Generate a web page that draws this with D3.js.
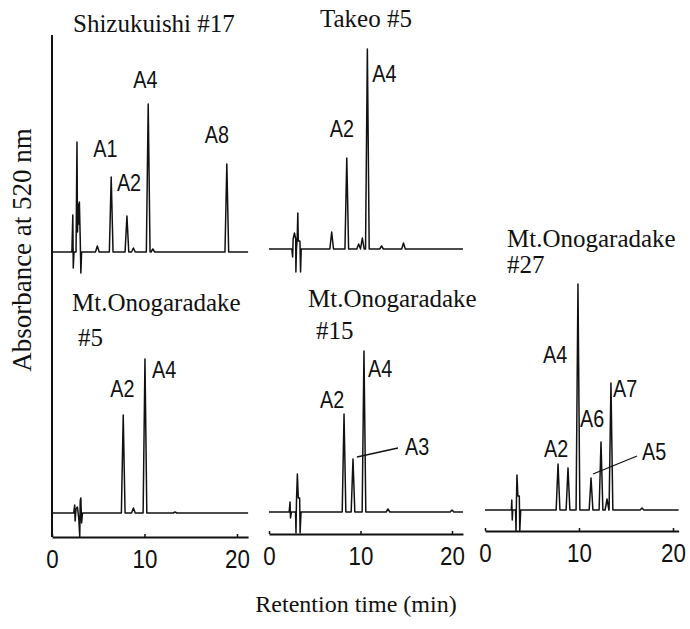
<!DOCTYPE html>
<html><head><meta charset="utf-8">
<script src="https://cdn.jsdelivr.net/npm/d3@7"></script>
<style>
body{margin:0;background:#fff;}
svg{display:block;}
.serif{font-family:'Liberation Serif','Times New Roman',serif;fill:#111;}
.sans{font-family:'Liberation Sans','Arial',sans-serif;fill:#111;}
</style></head><body>
<svg id="chart" width="690" height="629"></svg>
<script>
// ================= DATA =================
const xTitle = "Retention time (min)";
const yTitle = "Absorbance at 520 nm";
const tickValues = [0, 10, 20];

// Shizukuishi #17
const s17Title = ["Shizukuishi #17"];
const s17Times   = [4.9, 6.4, 8.1, 8.8, 10.4, 10.9, 18.9];
const s17Heights = [6, 75, 36, 4, 148, 3, 88];
const s17Labels  = ["", "A1", "A2", "", "A4", "", "A8"];
const s17Inject  = [[2.15,0],[2.25,37],[2.3,-16],[2.38,0],[2.6,0],[2.7,110],[2.76,20],[2.82,48],[2.9,28],[2.96,50],[3.05,14],[3.12,-21],[3.2,0]];

// Takeo #5
const takeoTitle = ["Takeo #5"];
const takeoTimes   = [6.85, 8.5, 9.8, 10.2, 10.75, 12.3, 14.7];
const takeoHeights = [17, 91, 5, 11, 200, 3, 6];
const takeoLabels  = ["", "A2", "", "", "A4", "", ""];
const takeoInject  = [[2.5,0],[2.58,-8],[2.64,10],[2.78,16],[2.92,10],[2.94,-23],[3.0,0],[3.08,10],[3.15,36],[3.2,8],[3.38,8],[3.45,-23],[3.52,0]];

// Mt.Onogaradake #5
const mo5Title = ["Mt.Onogaradake", "#5"];
const mo5Times   = [7.7, 8.8, 10.05, 13.3];
const mo5Heights = [98, 5, 154, 1];
const mo5Labels  = ["A2", "", "A4", ""];
const mo5Inject  = [[2.35,0],[2.45,8],[2.5,-8],[2.6,4],[2.75,6],[2.9,-6],[3.0,-24],[3.05,12],[3.12,15],[3.2,-10],[3.3,0]];

// Mt.Onogaradake #15
const mo15Title = ["Mt.Onogaradake", "#15"];
const mo15Times   = [8.2, 9.18, 10.38, 13.0, 20.0];
const mo15Heights = [98, 53, 161, 3, 2];
const mo15Labels  = ["A2", "A3", "A4", "", ""];
const mo15Inject  = [[2.2,0],[2.3,10],[2.35,-6],[2.45,0],[2.9,0],[2.95,-21],[3.0,10],[3.1,38],[3.2,14],[3.35,14],[3.4,-21],[3.5,0]];

// Mt.Onogaradake #27
const mo27Title = ["Mt.Onogaradake", "#27"];
const mo27Times   = [7.77, 8.83, 9.89, 11.28, 12.34, 12.98, 13.4, 16.7];
const mo27Heights = [46, 42, 226, 32, 68, 11, 127, 2];
const mo27Labels  = ["A2", "", "A4", "A5", "A6", "", "A7", ""];
const mo27Inject  = [[2.8,0],[2.85,10],[2.9,-10],[2.95,0],[3.25,0],[3.3,-21],[3.35,12],[3.4,35],[3.5,14],[3.65,14],[3.7,-21],[3.8,0]];

// ================= LAYOUT (positions / styles) =================
const panels = [
  {title:s17Title, times:s17Times, heights:s17Heights, labels:s17Labels, inject:s17Inject,
   x0:52, x20:237, base:252, tEnd:21.2, axisY:null,
   titlePos:[[73,32]],
   labelOff:{A1:[-18,-20], A2:[-10,-25], A4:[-15,-16], A8:[-22,-21]}},
  {title:takeoTitle, times:takeoTimes, heights:takeoHeights, labels:takeoLabels, inject:takeoInject,
   x0:269, x20:452, base:249, tEnd:21.2, axisY:null,
   titlePos:[[320,27]],
   labelOff:{A2:[-17,-21], A4:[5,33]}},
  {title:mo5Title, times:mo5Times, heights:mo5Heights, labels:mo5Labels, inject:mo5Inject,
   x0:52, x20:237, base:513, tEnd:21.2, axisY:537, tickPad:12.5,
   titlePos:[[72,311],[78,346]],
   labelOff:{A2:[-13,-18], A4:[7,19]}},
  {title:mo15Title, times:mo15Times, heights:mo15Heights, labels:mo15Labels, inject:mo15Inject,
   x0:269, x20:452, base:512, tEnd:21.2, axisY:534, tickPad:13,
   titlePos:[[308,307],[316,339]],
   labelOff:{A2:[-24,-6], A3:[52,-4], A4:[4,26]},
   leader:{A3:[[4,-2],[45,-11]]}},
  {title:mo27Title, times:mo27Times, heights:mo27Heights, labels:mo27Labels, inject:mo27Inject,
   x0:485, x20:673, base:510, tEnd:20.6, axisY:531, tickPad:12.5,
   titlePos:[[507,247],[507,273]],
   labelOff:{A2:[-14,-7], A4:[-35,79], A5:[51,-18], A6:[-21,-15], A7:[2,14]},
   leader:{A5:[[2,-4],[46,-22]]}}
];

const svg = d3.select("#chart");
const ink = "#111";
const narrow = 0.86;

// left frame line (shared by the left column)
const yFrame = d3.scaleLinear().domain([0,1]).range([537, 35]);
svg.append("line").attr("x1",52).attr("x2",52)
  .attr("y1",yFrame(0)).attr("y2",yFrame(1))
  .attr("stroke",ink).attr("stroke-width",2);

panels.forEach(p => {
  const g = svg.append("g");
  const x = d3.scaleLinear().domain([0,20]).range([p.x0, p.x20]);
  const y = d3.scaleLinear().domain([0,100]).range([p.base, p.base-100]);

  // build trace points from injection artefact + peaks
  const pts = [[0,0]];
  p.inject.forEach(d => pts.push(d));
  p.times.forEach((t,i) => {
    pts.push([t-0.2,0],[t,p.heights[i]],[t+0.2,0]);
  });
  pts.push([p.tEnd,0]);

  const line = d3.line().x(d=>x(d[0])).y(d=>y(d[1]));
  g.append("path").attr("d", line(pts))
    .attr("fill","none").attr("stroke",ink)
    .attr("stroke-width",1.5).attr("stroke-linejoin","round");

  // lower axis (time scale) for bottom row
  if (p.axisY !== null) {
    const xa = x.copy().domain([0,p.tEnd]).range([x(0), x(p.tEnd)]);
    const ax = g.append("g").attr("transform",`translate(0,${p.axisY})`)
      .call(d3.axisBottom(xa).tickValues(tickValues).tickSize(-3).tickSizeOuter(0).tickPadding(p.tickPad));
    ax.select(".domain").attr("stroke",ink).attr("stroke-width",2);
    ax.selectAll(".tick line").attr("stroke",ink).attr("stroke-width",1.5);
    ax.selectAll(".tick text").attr("class","sans").attr("font-size",26).attr("fill",ink)
      .attr("transform",`scale(${narrow},1)`);
  }

  // titles
  p.title.forEach((tx,i) => {
    g.append("text").attr("class","serif").attr("font-size",25)
      .attr("x",p.titlePos[i][0]).attr("y",p.titlePos[i][1]).text(tx);
  });

  // peak labels
  p.times.forEach((t,i) => {
    const lab = p.labels[i];
    if (!lab) return;
    const px = x(t), py = y(p.heights[i]);
    const o = p.labelOff[lab];
    g.append("g").attr("transform",`translate(${px+o[0]},${py+o[1]}) scale(${narrow},1)`)
      .append("text").attr("class","sans").attr("font-size",23).text(lab);
    if (p.leader && p.leader[lab]) {
      const L = p.leader[lab];
      g.append("line").attr("x1",px+L[0][0]).attr("y1",py+L[0][1])
        .attr("x2",px+L[1][0]).attr("y2",py+L[1][1])
        .attr("stroke",ink).attr("stroke-width",1.3);
    }
  });
});

// axis titles
svg.append("text").attr("class","serif").attr("font-size",24)
  .attr("x",356).attr("y",612).attr("text-anchor","middle").text(xTitle);
svg.append("text").attr("class","serif").attr("font-size",27)
  .attr("transform","translate(31,250) rotate(-90)")
  .attr("text-anchor","middle").text(yTitle);
</script>
</body></html>
